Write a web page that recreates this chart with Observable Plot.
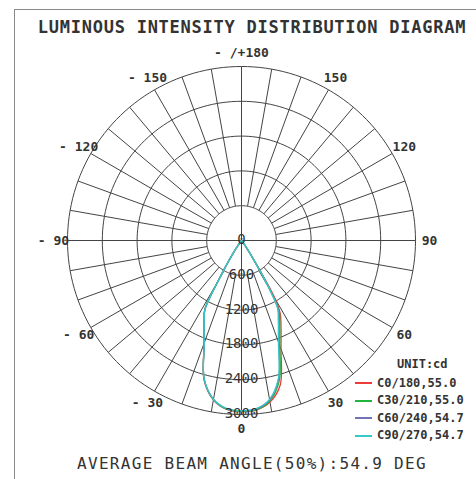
<!DOCTYPE html>
<html><head><meta charset="utf-8">
<script src="https://cdn.jsdelivr.net/npm/d3@7"></script>
<script src="https://cdn.jsdelivr.net/npm/@observablehq/plot@0.6"></script>
<style>
html,body{margin:0;padding:0;background:#fff;}
#wrap{position:relative;width:476px;height:479px;overflow:hidden;font-family:"DejaVu Sans Mono",monospace;color:#333;}
#frame{position:absolute;left:14px;top:9px;width:480px;height:490px;border-top:1.5px solid #8a8a8a;border-left:1.5px solid #8a8a8a;}
#title{position:absolute;left:28px;width:448px;top:17px;text-align:center;font-weight:bold;font-size:17px;letter-spacing:0.75px;line-height:20px;white-space:nowrap;}
#chart{position:absolute;left:0;top:40px;}
#caption{position:absolute;left:28px;width:448px;top:454px;text-align:center;font-size:16px;letter-spacing:1.3px;line-height:20px;white-space:nowrap;}
#legend{position:absolute;left:355px;top:355px;font-weight:bold;font-size:12px;white-space:nowrap;}
#legend .unit{height:19.5px;line-height:19.5px;padding-left:42px;}
#legend .row{height:17.5px;line-height:17.5px;display:flex;align-items:center;}
#legend .sw{display:block;width:17px;height:2px;margin-right:5px;}
</style>
</head><body>
<div id="wrap">
  <div id="frame"></div>
  <div id="title">LUMINOUS INTENSITY DISTRIBUTION DIAGRAM</div>
  <div id="chart"></div>
  <div id="caption">AVERAGE BEAM ANGLE(50%):54.9 DEG</div>
  <div id="legend"></div>
</div>
<script>
// ---- data ----
const rings = [600, 1200, 1800, 2400, 3000];
const ringLabelValues = [0, 600, 1200, 1800, 2400, 3000];
const spokeAngles = d3.range(0, 360, 10);
const angleLabelValues = [0, 30, 60, 90, 120, 150, 180, -150, -120, -90, -60, -30];
const angleLabelTexts = ["0", "30", "60", "90", "120", "150", "- /+180", "- 150", "- 120", "- 90", "- 60", "- 30"];

const gamma = [-45, -40, -35, -32, -30, -28, -25, -20, -15, -10, -5, 0, 5, 10, 15, 20, 25, 28, 30, 32, 35, 40, 45];
const c0_180  = [0, 20, 120, 420, 820, 1350, 1525, 1885, 2490, 2790, 2925, 2948, 2935, 2830, 2580, 1990, 1610, 1420, 1150, 500, 120, 20, 0];
const c30_210 = [0, 20, 120, 410, 810, 1345, 1522, 1882, 2485, 2785, 2918, 2942, 2928, 2810, 2510, 1930, 1560, 1380, 1000, 470, 120, 20, 0];
const c60_240 = [0, 20, 120, 400, 800, 1342, 1520, 1880, 2480, 2782, 2912, 2937, 2915, 2792, 2470, 1880, 1515, 1345, 960, 450, 120, 20, 0];
const c90_270 = [0, 20, 120, 400, 800, 1340, 1520, 1880, 2480, 2780, 2910, 2935, 2910, 2780, 2460, 1860, 1500, 1330, 950, 450, 120, 20, 0];

const seriesNames = ["C0/180,55.0", "C30/210,55.0", "C60/240,54.7", "C90/270,54.7"];
const seriesValues = [c0_180, c30_210, c60_240, c90_270];
const seriesColors = ["#f03a3a", "#22b53d", "#7272b6", "#35c9c9"];

// ---- geometry ----
const W = 476, H = 405;
const R = 174;            // px radius of 3000 cd ring
const k = 3000 / R;       // cd per px
const cx = 241, cy = 200; // centre in svg px
const rad = d => d * Math.PI / 180;
const px = (g, I) => I * Math.sin(rad(g));
const py = (g, I) => -I * Math.cos(rad(g));

const ringPts = rings.flatMap(v => d3.range(0, 361, 2).map(a => ({ring: v, x: px(a, v), y: py(a, v)})));
const spokes = spokeAngles.map(a => {
  const r0 = a % 90 === 0 ? 0 : rings[0];
  const r1 = rings[rings.length - 1];
  return {x1: px(a, r0), y1: py(a, r0), x2: px(a, r1), y2: py(a, r1)};
});
const curveData = seriesNames.flatMap((name, s) =>
  gamma.map((g, i) => ({series: name, x: px(g, seriesValues[s][i]), y: py(g, seriesValues[s][i])})));
const labelR = 188 * k;
const angleLabels = angleLabelValues.map((a, i) => ({text: angleLabelTexts[i], x: px(a, labelR), y: py(a, labelR)}));
const ringLabels = ringLabelValues.map(v => ({text: String(v), x: 0, y: -v}));

const font = "DejaVu Sans Mono, monospace";
const chart = Plot.plot({
  width: W, height: H, margin: 0,
  style: {background: "transparent", overflow: "visible"},
  x: {domain: [-cx * k, (W - cx) * k], axis: null},
  y: {domain: [-(H - cy) * k, cy * k], axis: null},
  color: {domain: seriesNames, range: seriesColors},
  marks: [
    Plot.line(ringPts, {x: "x", y: "y", z: "ring", stroke: "#444", strokeWidth: 1}),
    Plot.link(spokes, {x1: "x1", y1: "y1", x2: "x2", y2: "y2", stroke: "#444", strokeWidth: 1}),
    Plot.line(curveData, {x: "x", y: "y", z: "series", stroke: "series", strokeWidth: 1.3, curve: "catmull-rom"}),
    Plot.text(ringLabels, {x: "x", y: "y", text: "text", fontSize: 14, fontFamily: font, fill: "#333", dy: -1}),
    Plot.text(angleLabels, {x: "x", y: "y", text: "text", fontSize: 13, fontWeight: "bold", fontFamily: font, fill: "#333"})
  ]
});
document.getElementById("chart").appendChild(chart);

// ---- legend ----
const leg = document.getElementById("legend");
const u = document.createElement("div");
u.className = "unit"; u.textContent = "UNIT:cd";
leg.appendChild(u);
seriesNames.forEach((n, i) => {
  const row = document.createElement("div");
  row.className = "row";
  const sw = document.createElement("span");
  sw.className = "sw";
  sw.style.background = seriesColors[i];
  row.appendChild(sw);
  row.appendChild(document.createTextNode(n));
  leg.appendChild(row);
});
</script>
</body></html>
